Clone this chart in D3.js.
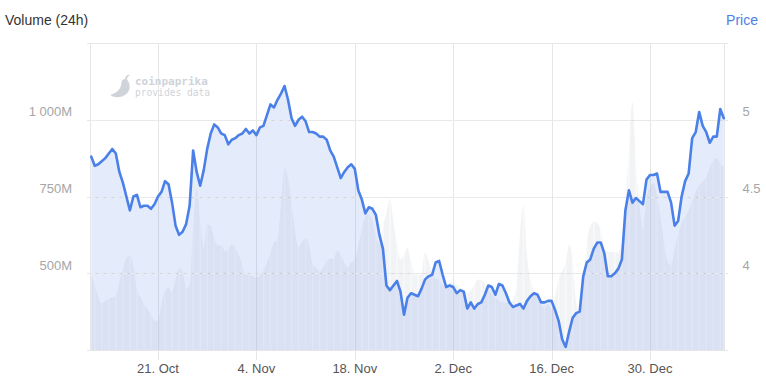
<!DOCTYPE html>
<html><head><meta charset="utf-8">
<script src="https://cdn.jsdelivr.net/npm/d3@7"></script>
<style>
body{margin:0;background:#fff;}
svg{display:block;font-family:"Liberation Sans",Arial,sans-serif;}
</style>
</head><body>
<svg id="c" width="766" height="383"></svg>
<script>
// ---------- data ----------
const startTime = "2019-10-11T12:00:00Z";
const stepHours = 12;
const price = [
4.76,4.70,4.71,4.73,4.75,4.78,4.81,4.78,4.66,4.59,
4.50,4.41,4.50,4.51,4.43,4.44,4.44,4.42,4.45,4.50,
4.53,4.60,4.58,4.46,4.31,4.25,4.27,4.32,4.44,4.80,
4.66,4.57,4.67,4.81,4.91,4.97,4.95,4.91,4.90,4.84,
4.87,4.88,4.90,4.91,4.94,4.91,4.93,4.90,4.95,4.96,
5.03,5.10,5.08,5.13,5.17,5.22,5.13,5.01,4.96,5.00,
5.02,4.99,4.92,4.92,4.91,4.89,4.89,4.87,4.80,4.76,
4.69,4.62,4.66,4.69,4.71,4.68,4.54,4.48,4.39,4.43,
4.42,4.38,4.25,4.16,3.92,3.89,3.92,3.95,3.88,3.73,
3.84,3.87,3.86,3.85,3.90,3.96,3.98,3.99,4.07,4.08,
3.99,3.91,3.92,3.91,3.87,3.89,3.88,3.77,3.81,3.77,
3.80,3.81,3.86,3.92,3.91,3.86,3.93,3.92,3.87,3.81,
3.78,3.79,3.80,3.77,3.82,3.85,3.87,3.86,3.81,3.81,
3.82,3.82,3.76,3.69,3.57,3.52,3.62,3.71,3.74,3.75,
3.98,4.07,4.09,4.16,4.20,4.20,4.13,3.98,3.98,4.00,
4.03,4.09,4.41,4.54,4.46,4.49,4.47,4.45,4.61,4.64,
4.64,4.65,4.53,4.53,4.53,4.46,4.31,4.34,4.50,4.60,
4.65,4.88,4.92,5.05,4.96,4.92,4.85,4.89,4.89,5.07,
5.01];
const volumeM = [
494,460,422,404,408,418,420,428,470,514,
548,556,521,444,423,399,382,365,345,347,
399,442,452,438,478,517,506,450,462,650,
775,672,582,660,655,614,590,591,572,576,
593,583,558,526,494,493,491,485,494,511,
534,566,600,611,721,846,808,727,635,586,
603,616,590,529,518,504,518,538,548,546,
573,561,533,519,535,543,593,643,685,692,
669,619,595,655,697,744,666,594,545,559,
582,539,495,494,500,570,540,498,482,479,
461,451,470,469,462,450,441,435,443,461,
479,479,464,448,431,419,410,406,403,407,
412,462,625,722,555,476,441,418,398,386,
400,382,424,480,506,534,591,545,402,372,
464,598,653,668,664,639,582,570,570,569,
566,613,722,896,1058,853,723,641,744,781,
793,753,678,602,539,526,579,626,662,685,
705,735,764,787,799,814,844,868,874,857,
846];
const dateTicks = ["2019-10-21","2019-11-04","2019-11-18","2019-12-02","2019-12-16","2019-12-30"];
const xDomain = ["2019-10-11T09:30:00Z","2020-01-09T14:24:00Z"];
const volumeDomain = [250, 1250];
const volumeGrid = [250, 500, 750, 1000, 1250];
const volumeTicks = [500, 750, 1000];
const priceDomain = [3.5, 5.5];
const priceTicks = [4, 4.5, 5];

// ---------- layout ----------
const L = 90.5, R = 724.5, T = 43, B = 350;
const svg = d3.select("#c");
const t0 = new Date(startTime).getTime();
const times = price.map((_, i) => new Date(t0 + i * stepHours * 3600e3));
const rows = times.map((t, i) => ({t, p: price[i], v: volumeM[i]}));

const x = d3.scaleUtc().domain(xDomain.map(d => new Date(d))).range([L, R]);
const yV = d3.scaleLinear().domain(volumeDomain).range([B, T]);
const yP = d3.scaleLinear().domain(priceDomain).range([B, T]);

const grid = "#e6e6e6";
svg.append("g").selectAll("line").data(volumeGrid).join("line")
  .attr("x1", 87).attr("x2", 728)
  .attr("y1", d => Math.round(yV(d)) + 0.5).attr("y2", d => Math.round(yV(d)) + 0.5)
  .attr("stroke", grid).attr("stroke-width", 1);
const tickDates = dateTicks.map(d => new Date(d + "T00:00:00Z"));
svg.append("g").selectAll("line").data(tickDates).join("line")
  .attr("x1", d => Math.round(x(d)) + 0.5).attr("x2", d => Math.round(x(d)) + 0.5)
  .attr("y1", T).attr("y2", B + 10)
  .attr("stroke", grid);
svg.append("g").selectAll("line").data([L, R]).join("line")
  .attr("x1", d => d).attr("x2", d => d).attr("y1", T).attr("y2", B)
  .attr("stroke", grid);

// price area
const priceArea = d3.area().x(d => x(d.t)).y0(B).y1(d => yP(d.p));
svg.append("path").datum(rows).attr("d", priceArea)
  .attr("fill", "rgb(75,128,235)").attr("fill-opacity", 0.15);

// volume area
const volArea = d3.area().x(d => x(d.t)).y0(B).y1(d => yV(d.v)).curve(d3.curveMonotoneX);
svg.append("defs").append("clipPath").attr("id", "vclip")
  .append("path").datum(rows).attr("d", volArea);
svg.append("path").datum(rows).attr("d", volArea)
  .attr("fill", "rgb(95,105,130)").attr("fill-opacity", 0.045);
const daily = rows.filter((d, i) => i % 2 === 0);
const halfDay = 12 * 3600e3;
svg.append("g").attr("clip-path", "url(#vclip)").selectAll("rect").data(daily).join("rect")
  .attr("x", d => x(new Date(d.t.getTime() - halfDay)) + 0.8)
  .attr("width", d => x(new Date(d.t.getTime() + halfDay)) - x(new Date(d.t.getTime() - halfDay)) - 1.6)
  .attr("y", T).attr("height", B - T)
  .attr("fill", "rgb(95,105,140)").attr("fill-opacity", 0.04);

// dashed grid on top of areas
svg.append("g").selectAll("line").data(volumeTicks).join("line")
  .attr("x1", L).attr("x2", R)
  .attr("y1", d => Math.round(yV(d)) + 0.5).attr("y2", d => Math.round(yV(d)) + 0.5)
  .attr("stroke", "#ebebeb").attr("stroke-dasharray", "5,3");
svg.append("line").attr("x1", 87).attr("x2", 728)
  .attr("y1", B + 0.5).attr("y2", B + 0.5).attr("stroke", grid);

// price line
const priceLine = d3.line().x(d => x(d.t)).y(d => yP(d.p));
svg.append("path").datum(rows).attr("d", priceLine)
  .attr("fill", "none").attr("stroke", "#4a80e8").attr("stroke-width", 2.6)
  .attr("stroke-linejoin", "round").attr("stroke-linecap", "round");

// watermark
const wm = svg.append("g").attr("fill", "#cfd3da");
wm.append("path").attr("d",
  "M126.5,79 C131.5,84 131,93.5 122,96.5 C117,98 111.5,97 110.5,94.5 C117,93.5 121.5,88.5 121.5,82 C121.5,80 123.5,78.5 126.5,79 Z");
wm.append("path").attr("d", "M125,79.5 C125,77 126.5,75 129,74.5 L129.5,75.8 C127.8,76.3 127,77.6 127.2,79.6 Z");
wm.append("text").attr("x", 135).attr("y", 85).attr("font-family", "'DejaVu Sans Mono',monospace")
  .attr("font-size", 11).attr("font-weight", "bold").text("coinpaprika");
wm.append("text").attr("x", 135).attr("y", 95.5).attr("font-family", "'DejaVu Sans Mono',monospace")
  .attr("font-size", 9.6).text("provides data");

// axes labels
const fmtLocale = d3.formatLocale({decimal: ".", thousands: " ", grouping: [3], currency: ["", ""]});
const fmtV = d => fmtLocale.format(",")(d) + "M";
svg.append("g").selectAll("text").data(volumeTicks).join("text")
  .attr("x", 72).attr("y", d => yV(d) - 3.5).attr("text-anchor", "end")
  .attr("font-size", 13).attr("fill", "#a6a6a6").text(fmtV);
svg.append("g").selectAll("text").data(priceTicks).join("text")
  .attr("x", 742.5).attr("y", d => yP(d) - 3.5).attr("text-anchor", "start")
  .attr("font-size", 13).attr("fill", "#a6a6a6").text(d => d3.format("")(d));
const fmtDate = d3.utcFormat("%-d. %b");
svg.append("g").selectAll("text").data(tickDates).join("text")
  .attr("x", d => x(d)).attr("y", 373).attr("text-anchor", "middle")
  .attr("font-size", 13).attr("fill", "#555").text(fmtDate);

svg.append("text").attr("x", 5).attr("y", 25).attr("font-size", 14).attr("fill", "#333").text("Volume (24h)");
svg.append("text").attr("x", 758).attr("y", 25).attr("text-anchor", "end")
  .attr("font-size", 14).attr("fill", "#4a80e8").text("Price");
</script>
</body></html>
